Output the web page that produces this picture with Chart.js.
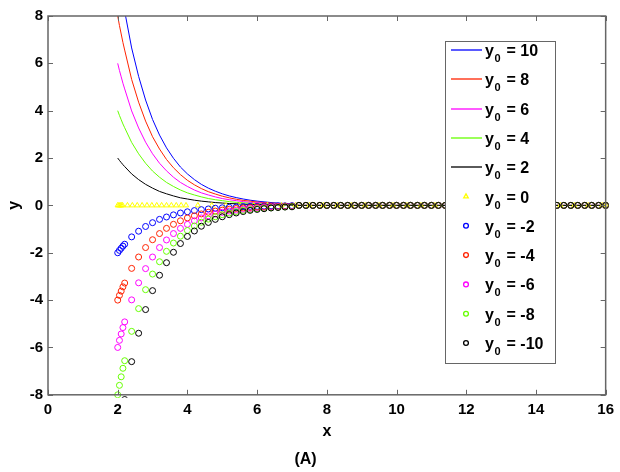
<!DOCTYPE html>
<html>
<head>
<meta charset="utf-8">
<title>y0 curves (A)</title>
<script src="https://cdn.jsdelivr.net/npm/chart.js@4.4.0/dist/chart.umd.min.js"></script>
<style>
    html, body { margin: 0; padding: 0; background: #fff; }
</style>
</head>
<body>
<canvas id="chart" width="620" height="472"></canvas>
<script>
// initial values, one series each
var initialValues = [10, 8, 6, 4, 2, 0, -2, -4, -6, -8, -10];

var xTicks = [0, 2, 4, 6, 8, 10, 12, 14, 16];
var yTicks = [-8, -6, -4, -2, 0, 2, 4, 6, 8];

// sample points shared by every series except y0 = 0
var xGrid = [2, 2.05, 2.1, 2.15, 2.2, 2.4, 2.6, 2.8, 3, 3.2, 3.4, 3.6, 3.8, 4, 4.2, 4.4, 4.6, 4.8, 5, 5.2,
    5.4, 5.6, 5.8, 6, 6.2, 6.4, 6.6, 6.8, 7, 7.2, 7.4, 7.6, 7.8, 8, 8.2, 8.4, 8.6, 8.8, 9, 9.2, 9.4, 9.6,
    9.8, 10, 10.2, 10.4, 10.6, 10.8, 11, 11.2, 11.4, 11.6, 11.8, 12, 12.2, 12.4, 12.6, 12.8, 13, 13.2,
    13.4, 13.6, 13.8, 14, 14.2, 14.4, 14.6, 14.8, 15, 15.2, 15.4, 15.6, 15.8, 16];

// x = 7.2 .. 16, every curve sits on zero there
var flatTail = [0, 0, 0, 0, 0, 0, 0, 0, 0, 0, 0, 0, 0, 0, 0, 0, 0, 0, 0, 0, 0, 0, 0, 0, 0, 0, 0, 0, 0, 0,
    0, 0, 0, 0, 0, 0, 0, 0, 0, 0, 0, 0, 0, 0, 0];

// x = 2 .. 7
var yPos10 = [10, 9.5, 9.05, 8.6, 8.2, 6.65, 5.45, 4.45, 3.63, 2.97, 2.43, 1.99, 1.62, 1.33, 1.09, 0.89, 0.73, 0.6, 0.49, 0.4, 0.33, 0.27, 0.22, 0.18, 0.15, 0.12, 0.1, 0.08, 0.07];
var yPos8 = [8, 7.6, 7.24, 6.88, 6.56, 5.32, 4.36, 3.56, 2.9, 2.38, 1.94, 1.59, 1.3, 1.06, 0.87, 0.71, 0.58, 0.48, 0.39, 0.32, 0.26, 0.21, 0.18, 0.14, 0.12, 0.1, 0.08, 0.06, 0.05];
var yPos6 = [6, 5.7, 5.43, 5.16, 4.92, 3.99, 3.27, 2.67, 2.18, 1.78, 1.46, 1.19, 0.97, 0.8, 0.65, 0.53, 0.44, 0.36, 0.29, 0.24, 0.2, 0.16, 0.13, 0.11, 0.09, 0.07, 0.06, 0.05, 0.04];
var yPos4 = [4, 3.8, 3.62, 3.44, 3.28, 2.66, 2.18, 1.78, 1.45, 1.19, 0.97, 0.8, 0.65, 0.53, 0.44, 0.36, 0.29, 0.24, 0.2, 0.16, 0.13, 0.11, 0.09, 0.07, 0.06, 0.05, 0.04, 0.03, 0.03];
var yPos2 = [2, 1.9, 1.81, 1.72, 1.64, 1.33, 1.09, 0.89, 0.73, 0.59, 0.49, 0.4, 0.32, 0.27, 0.22, 0.18, 0.15, 0.12, 0.1, 0.08, 0.07, 0.05, 0.04, 0.04, 0.03, 0.02, 0.02, 0.02, 0.01];
var yNeg2 = [-2, -1.9, -1.81, -1.72, -1.64, -1.33, -1.09, -0.89, -0.73, -0.59, -0.49, -0.4, -0.32, -0.27, -0.22, -0.18, -0.15, -0.12, -0.1, -0.08, -0.07, -0.05, -0.04, -0.04, -0.03, -0.02, -0.02, -0.02, -0.01];
var yNeg4 = [-4, -3.8, -3.62, -3.44, -3.28, -2.66, -2.18, -1.78, -1.45, -1.19, -0.97, -0.8, -0.65, -0.53, -0.44, -0.36, -0.29, -0.24, -0.2, -0.16, -0.13, -0.11, -0.09, -0.07, -0.06, -0.05, -0.04, -0.03, -0.03];
var yNeg6 = [-6, -5.7, -5.43, -5.16, -4.92, -3.99, -3.27, -2.67, -2.18, -1.78, -1.46, -1.19, -0.97, -0.8, -0.65, -0.53, -0.44, -0.36, -0.29, -0.24, -0.2, -0.16, -0.13, -0.11, -0.09, -0.07, -0.06, -0.05, -0.04];
var yNeg8 = [-8, -7.6, -7.24, -6.88, -6.56, -5.32, -4.36, -3.56, -2.9, -2.38, -1.94, -1.59, -1.3, -1.06, -0.87, -0.71, -0.58, -0.48, -0.39, -0.32, -0.26, -0.21, -0.18, -0.14, -0.12, -0.1, -0.08, -0.06, -0.05];
var yNeg10 = [-10, -9.5, -9.05, -8.6, -8.2, -6.6, -5.4, -4.4, -3.6, -2.95, -2.42, -1.98, -1.61, -1.31, -1.08, -0.88, -0.72, -0.59, -0.48, -0.39, -0.32, -0.26, -0.21, -0.17, -0.14, -0.11, -0.09, -0.07, -0.06];

// y0 = 0 has its own steps
var xZero = [2, 2.035, 2.07, 2.105, 2.14, 2.28, 2.42, 2.56, 2.7, 2.84, 2.98, 3.12, 3.26, 3.4, 3.54, 3.68,
    3.82, 3.96, 4.3, 4.7, 5.1, 5.5, 5.9, 6.3, 6.7, 7.1, 7.5, 7.9, 8.3, 8.7, 9.1, 9.5, 9.9, 10.3, 10.7,
    11.1, 11.5, 11.9, 12.3, 12.7, 13.1, 13.5, 13.9, 14.3, 14.7, 15.1, 15.5, 15.9, 16];
var yZero = [0, 0, 0, 0, 0, 0, 0, 0, 0, 0, 0, 0, 0, 0, 0, 0, 0, 0, 0, 0, 0, 0, 0, 0, 0, 0, 0, 0, 0, 0,
    0, 0, 0, 0, 0, 0, 0, 0, 0, 0, 0, 0, 0, 0, 0, 0, 0, 0, 0];

var seriesY = [yPos10, yPos8, yPos6, yPos4, yPos2, null, yNeg2, yNeg4, yNeg6, yNeg8, yNeg10];
var seriesColors = ['#0000ff', '#ff2200', '#ff00ff', '#66ff00', '#000000', '#ffff00',
    '#0000ff', '#ff2200', '#ff00ff', '#66ff00', '#000000'];

var FONT = "'Liberation Sans', Arial, Helvetica, sans-serif";
Chart.defaults.font.family = FONT;
Chart.defaults.color = '#000';

function toPoints(xs, ys) {
    return xs.map(function (x, i) { return { x: x, y: ys[i] }; });
}

var datasets = initialValues.map(function (v, i) {
    var color = seriesColors[i];
    var common = {
        label: 'y\u2080 = ' + v,
        y0: v,
        borderColor: color,
        order: initialValues.length - i
    };
    if (v > 0) {
        return Object.assign(common, {
            data: toPoints(xGrid, seriesY[i].concat(flatTail)),
            showLine: true,
            borderWidth: 1,
            pointRadius: 0,
            tension: 0
        });
    }
    if (v === 0) {
        return Object.assign(common, {
            data: toPoints(xZero, yZero),
            showLine: false,
            pointStyle: 'triangle',
            pointRadius: 3,
            pointBorderWidth: 1,
            pointBorderColor: color,
            pointBackgroundColor: 'rgba(0,0,0,0)',
            clip: 3.5
        });
    }
    return Object.assign(common, {
        data: toPoints(xGrid, seriesY[i].concat(flatTail)),
        showLine: false,
        pointStyle: 'circle',
        pointRadius: 3,
        pointBorderWidth: 1,
        pointBorderColor: color,
        pointBackgroundColor: 'rgba(0,0,0,0)',
        clip: 3
    });
});

// box, inward ticks and the legend inside the plot
var framePlugin = {
    id: 'frame',
    afterDatasetsDraw: function (chart) {
        var ctx = chart.ctx;
        var a = chart.chartArea;
        var xs = chart.scales.x;
        var ys = chart.scales.y;

        ctx.save();
        ctx.strokeStyle = '#666';
        ctx.lineWidth = 1;
        ctx.beginPath();
        xs.ticks.forEach(function (t) {
            var px = Math.round(xs.getPixelForValue(t.value)) + 0.5;
            ctx.moveTo(px, a.bottom);
            ctx.lineTo(px, a.bottom - 5);
            ctx.moveTo(px, a.top);
            ctx.lineTo(px, a.top + 5);
        });
        ys.ticks.forEach(function (t) {
            var py = Math.round(ys.getPixelForValue(t.value)) + 0.5;
            ctx.moveTo(a.left, py);
            ctx.lineTo(a.left + 5, py);
            ctx.moveTo(a.right, py);
            ctx.lineTo(a.right - 5, py);
        });
        ctx.stroke();
        ctx.lineWidth = 1.5;
        ctx.strokeRect(a.left, a.top, a.right - a.left, a.bottom - a.top);

        // legend
        var lx = 445, ly = 41, lw = 110, lh = 322;
        ctx.fillStyle = '#fff';
        ctx.fillRect(lx, ly, lw, lh);
        ctx.lineWidth = 1;
        ctx.strokeStyle = '#666';
        ctx.strokeRect(lx + 0.5, ly + 0.5, lw, lh);

        chart.data.datasets.forEach(function (ds, i) {
            var cy = 50 + i * 29.3;
            var color = seriesColors[i];
            if (ds.showLine) {
                ctx.strokeStyle = color;
                ctx.lineWidth = 1.3;
                ctx.beginPath();
                ctx.moveTo(451, Math.round(cy));
                ctx.lineTo(482, Math.round(cy));
                ctx.stroke();
            } else {
                ctx.strokeStyle = color;
                ctx.fillStyle = 'rgba(0,0,0,0)';
                Chart.helpers.drawPoint(ctx, {
                    pointStyle: ds.pointStyle,
                    radius: ds.pointStyle === 'triangle' ? 2.6 : 2.4,
                    borderWidth: 1,
                    rotation: 0
                }, 466, cy);
            }

            var base = cy + 6;
            var x = 485;
            ctx.fillStyle = '#000';
            ctx.textBaseline = 'alphabetic';
            ctx.textAlign = 'left';
            ctx.font = 'bold 16px ' + FONT;
            ctx.fillText('y', x, base);
            x += ctx.measureText('y').width + 0.5;
            ctx.font = 'bold 11px ' + FONT;
            ctx.fillText('0', x, base + 6);
            x += ctx.measureText('0').width + 6;
            ctx.font = 'bold 16px ' + FONT;
            ctx.fillText('= ' + ds.y0, x, base);
        });
        ctx.restore();
    }
};

new Chart(document.getElementById('chart'), {
    type: 'scatter',
    data: { datasets: datasets },
    options: {
        responsive: false,
        animation: false,
        layout: { padding: { top: 16, right: 9, bottom: 2, left: 0 } },
        plugins: {
            legend: { display: false },
            tooltip: { enabled: false },
            title: {
                display: true,
                position: 'bottom',
                text: '(A)',
                color: '#000',
                font: { size: 16, weight: 'bold' },
                padding: { top: 5, bottom: 1 }
            }
        },
        scales: {
            x: {
                type: 'linear',
                min: 0,
                max: 16,
                afterBuildTicks: function (scale) {
                    scale.ticks = xTicks.map(function (v) { return { value: v }; });
                },
                afterFit: function (scale) { scale.height = 50; },
                grid: { display: false, drawTicks: false },
                border: { display: false },
                ticks: { font: { size: 15, weight: 'bold' }, padding: 6, maxRotation: 0, autoSkip: false },
                title: { display: true, text: 'x', font: { size: 16, weight: 'bold' }, padding: { top: 2, bottom: 4 } }
            },
            y: {
                type: 'linear',
                min: -8,
                max: 8,
                afterBuildTicks: function (scale) {
                    scale.ticks = yTicks.map(function (v) { return { value: v }; });
                },
                afterFit: function (scale) { scale.width = 48; },
                grid: { display: false, drawTicks: false },
                border: { display: false },
                ticks: { font: { size: 15, weight: 'bold' }, padding: 5, autoSkip: false },
                title: { display: true, text: 'y', font: { size: 16, weight: 'bold' }, padding: { top: 5, bottom: 0 } }
            }
        }
    },
    plugins: [framePlugin]
});
</script>
</body>
</html>
